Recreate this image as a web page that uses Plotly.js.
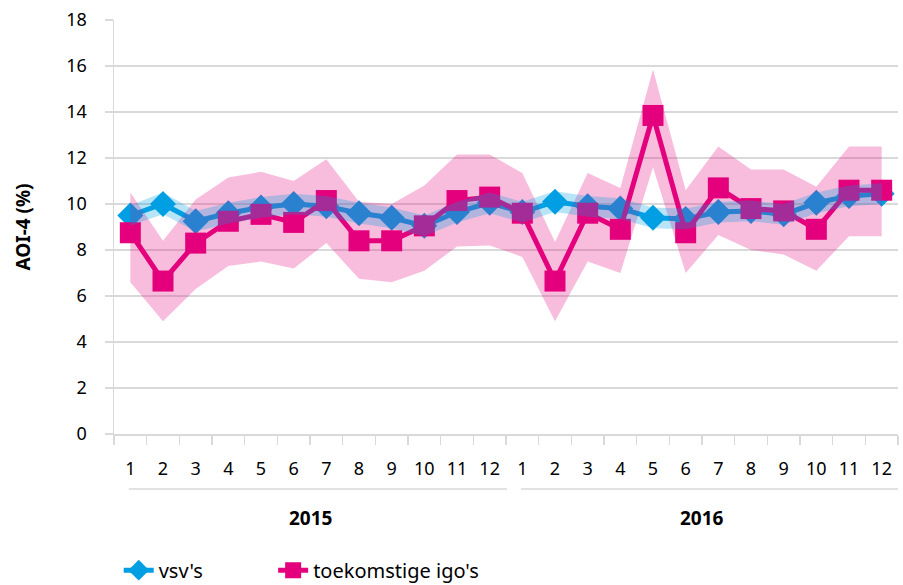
<!DOCTYPE html>
<html>
<head>
<meta charset="utf-8">
<script src="https://cdn.plot.ly/plotly-3.0.1.min.js"></script>
<style>html,body{margin:0;padding:0;background:#fff}#chart{width:903px;height:585px}</style>
</head>
<body>
<div id="chart"></div>
<script>
var years = ["2015", "2016"];
var months = ["1","2","3","4","5","6","7","8","9","10","11","12","1","2","3","4","5","6","7","8","9","10","11","12"];

var vsv       = [9.5, 10.0, 9.25, 9.6, 9.85, 10.0, 9.9, 9.6, 9.4, 9.05, 9.65, 10.05,
                 9.65, 10.1, 9.9, 9.8, 9.4, 9.35, 9.65, 9.7, 9.55, 10.05, 10.35, 10.45];
var vsvUpper  = [9.95, 10.5, 9.7, 10.05, 10.3, 10.45, 10.35, 10.05, 9.85, 9.5, 10.1, 10.5,
                 10.1, 10.55, 10.35, 10.25, 9.85, 9.8, 10.1, 10.15, 10.0, 10.5, 10.8, 10.9];
var vsvLower  = [9.05, 9.55, 8.8, 9.15, 9.4, 9.55, 9.45, 9.15, 8.95, 8.6, 9.2, 9.6,
                 9.2, 9.65, 9.45, 9.35, 8.95, 8.9, 9.2, 9.25, 9.1, 9.6, 9.9, 10.0];

var igo       = [8.75, 6.65, 8.3, 9.25, 9.55, 9.2, 10.15, 8.4, 8.4, 9.05, 10.15, 10.3,
                 9.6, 6.65, 9.6, 8.9, 13.85, 8.75, 10.7, 9.8, 9.7, 8.9, 10.6, 10.6];
var igoUpper  = [10.5, 8.4, 10.2, 11.15, 11.4, 11.0, 11.95, 10.1, 10.0, 10.8, 12.15, 12.15,
                 11.35, 8.35, 11.35, 10.7, 15.85, 10.6, 12.5, 11.5, 11.5, 10.75, 12.5, 12.5];
var igoLower  = [6.6, 4.9, 6.3, 7.3, 7.5, 7.2, 8.3, 6.75, 6.6, 7.1, 8.15, 8.2,
                 7.7, 4.9, 7.5, 7.0, 11.6, 7.0, 8.65, 8.0, 7.8, 7.1, 8.6, 8.6];

var xs = months.map(function(_, i){ return i; });
function band(upper, lower){
  return {
    x: xs.concat(xs.slice().reverse()),
    y: upper.concat(lower.slice().reverse())
  };
}
var BLUE = "#009fe3", PINK = "#e4007c";
var FONT = "Noto Sans";

var pb = band(igoUpper, igoLower), bb = band(vsvUpper, vsvLower);
var traces = [
  {x: xs, y: vsv, name: "vsv's", type: "scatter", mode: "lines+markers", legend: "legend",
   line: {color: BLUE, width: 5}, marker: {symbol: "diamond", size: 20, color: BLUE}},
  {x: xs, y: igo, name: "toekomstige igo's", type: "scatter", mode: "lines+markers", legend: "legend2",
   line: {color: PINK, width: 5}, marker: {symbol: "square", size: 21, color: PINK}},
  {x: pb.x, y: pb.y, type: "scatter", mode: "lines", fill: "toself", showlegend: false,
   hoverinfo: "skip", line: {width: 0}, fillcolor: "rgba(228,0,124,0.26)"},
  {x: bb.x, y: bb.y, type: "scatter", mode: "lines", fill: "toself", showlegend: false,
   hoverinfo: "skip", line: {width: 0}, fillcolor: "rgba(0,159,227,0.28)"}
];

var groupStart = [0, 12], groupEnd = [11, 23];
var annotations = years.map(function(y, k){
  return {x: (groupStart[k] + groupEnd[k]) / 2, xref: "x", y: -0.203, yref: "paper",
    text: "<b>" + y + "</b>", showarrow: false, font: {family: FONT, size: 19, color: "#000"},
    yanchor: "middle"};
});
var shapes = years.map(function(y, k){
  return {type: "line", xref: "x", yref: "paper",
    x0: groupStart[k] - (k === 0 ? 0.05 : 0.04), x1: groupEnd[k] + (k === 0 ? 0.53 : 0.5),
    y0: -0.133, y1: -0.133, line: {color: "#d9d9d9", width: 1.5}};
});

var legendBase = {orientation: "h", xanchor: "left", y: -0.329, yanchor: "middle",
  font: {family: FONT, size: 20, color: "#000"}, bgcolor: "rgba(0,0,0,0)"};

var layout = {
  width: 903, height: 585,
  margin: {l: 114, r: 5, t: 20, b: 151, autoexpand: false},
  paper_bgcolor: "#fff", plot_bgcolor: "#fff",
  font: {family: FONT, size: 18, color: "#000"},
  showlegend: true,
  legend: Object.assign({}, legendBase, {x: 0.006}),
  legend2: Object.assign({}, legendBase, {x: 0.203}),
  xaxis: {range: [-0.5, 23.5], tickmode: "array", tickvals: xs, ticktext: months,
    ticks: "", showgrid: false, zeroline: false, showline: true, linecolor: "#d9d9d9", linewidth: 1.5,
    ticklabelstandoff: 18, tickfont: {family: FONT, size: 18, color: "#000"}, automargin: false,
    minor: {tick0: -0.5, dtick: 1, ticks: "outside", ticklen: 9, tickcolor: "#d9d9d9", tickwidth: 1.5, showgrid: false}},
  yaxis: {range: [0, 18], dtick: 2, tick0: 0, showgrid: true, gridcolor: "#d9d9d9", gridwidth: 1.5,
    zeroline: false, showline: true, linecolor: "#d9d9d9", linewidth: 1.5, automargin: false,
    ticks: "outside", ticklen: 8, tickcolor: "#d9d9d9", tickwidth: 1.5, ticklabelstandoff: 14,
    tickfont: {family: FONT, size: 18, color: "#000"},
    title: {text: "<b>AOI-4 (%)</b>", font: {family: FONT, size: 19, color: "#000"}, standoff: 30}},
  annotations: annotations,
  shapes: shapes
};

Plotly.newPlot("chart", traces, layout, {displayModeBar: false, staticPlot: true});
</script>
</body>
</html>
